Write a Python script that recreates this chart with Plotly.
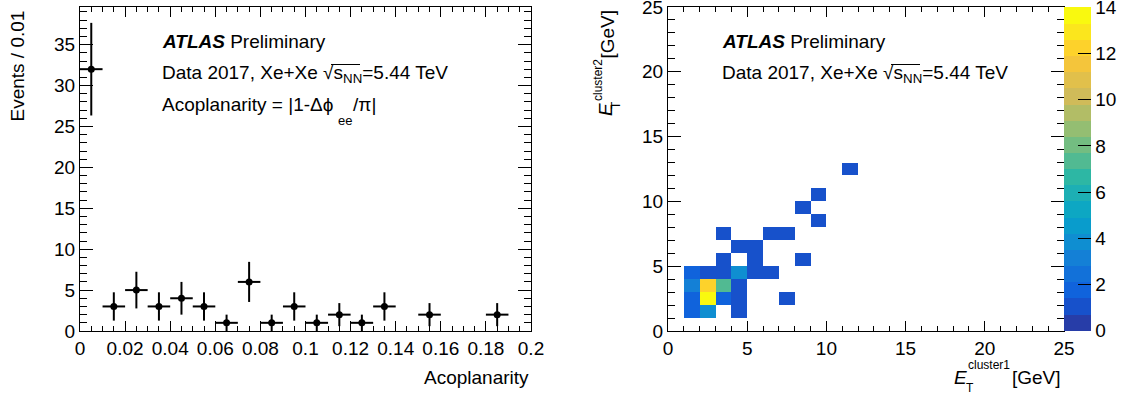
import plotly.graph_objects as go

# ---------------- data: left panel (acoplanarity histogram) ----------------
acop_center = [0.005, 0.015, 0.025, 0.035, 0.045, 0.055, 0.065, 0.075,
               0.085, 0.095, 0.105, 0.115, 0.125, 0.135, 0.155, 0.185]
acop_events = [32, 3, 5, 3, 4, 3, 1, 6, 1, 3, 1, 2, 1, 3, 2, 2]
acop_error = [5.66, 1.73, 2.24, 1.73, 2.0, 1.73, 1.0, 2.45,
              1.0, 1.73, 1.0, 1.41, 1.0, 1.73, 1.41, 1.41]
acop_halfbin = 0.005
acop_tickvals = [0, 0.02, 0.04, 0.06, 0.08, 0.1, 0.12, 0.14, 0.16, 0.18, 0.2]
acop_ticktext = ["0", "0.02", "0.04", "0.06", "0.08", "0.1", "0.12", "0.14", "0.16", "0.18", "0.2"]

# ---------------- data: right panel (ET cluster1 vs cluster2) ----------------
cell_et1 = [1, 2, 4,
            1, 2, 3, 4, 7,
            1, 2, 3, 4,
            1, 2, 3, 4, 5, 6,
            3, 5, 8,
            4, 5,
            3, 6, 7,
            9, 8, 9, 11]
cell_et2 = [1, 1, 1,
            2, 2, 2, 2, 2,
            3, 3, 3, 3,
            4, 4, 4, 4, 4, 4,
            5, 5, 5,
            6, 6,
            7, 7, 7,
            8, 9, 10, 12]
cell_count = [2, 4, 1,
              2, 14, 2, 1, 1,
              3, 12, 7, 1,
              2, 1, 1, 4, 1, 1,
              1, 1, 1,
              1, 1,
              1, 1, 1,
              1, 1, 1, 1]
et_edges = list(range(0, 26))
cbar_ticks = [0, 2, 4, 6, 8, 10, 12, 14]
z_min, z_max = 0.0, 14.0

# ---------------- style ----------------
W, H = 1121, 394
FONT = "Liberation Sans, Arial, sans-serif"
FS = 19
SUB = 12


def px(x):
    return x / W


def py(y):
    return 1 - y / H


# ROOT kBird palette, 20 contour levels
stops = [0.0, 0.125, 0.25, 0.375, 0.5, 0.625, 0.75, 0.875, 1.0]
rr = [0.2082, 0.0592, 0.0780, 0.0232, 0.1802, 0.5301, 0.8186, 0.9956, 0.9764]
gg = [0.1664, 0.3599, 0.5041, 0.6419, 0.7178, 0.7492, 0.7328, 0.7862, 0.9832]
bb = [0.5293, 0.8684, 0.8385, 0.7914, 0.6425, 0.4662, 0.3499, 0.1968, 0.0539]


def bird(t):
    for k in range(len(stops) - 1):
        if stops[k] <= t <= stops[k + 1]:
            f = (t - stops[k]) / (stops[k + 1] - stops[k])
            r = rr[k] + f * (rr[k + 1] - rr[k])
            g = gg[k] + f * (gg[k + 1] - gg[k])
            b = bb[k] + f * (bb[k + 1] - bb[k])
            return "rgb(%d,%d,%d)" % (round(r * 255), round(g * 255), round(b * 255))
    return "rgb(250,251,14)"


NLEV = 20
cb_lo, cb_hi = z_min - 0.02, z_max + 0.02   # keep end ticks inside the colour bar
step = (z_max - z_min) / NLEV


def norm(v):
    return min(1.0, max(0.0, (v - cb_lo) / (cb_hi - cb_lo)))


colorscale = []
for i in range(NLEV):
    c = bird(int((i + 0.99) * 255 / NLEV) / 255)
    lo = 0.0 if i == 0 else norm(z_min + i * step - 0.007)
    hi = 1.0 if i == NLEV - 1 else norm(z_min + (i + 1) * step - 0.007)
    colorscale.append([lo, c])
    colorscale.append([hi, c])

z = [[None] * 25 for _ in range(25)]
for ex, ey, n in zip(cell_et1, cell_et2, cell_count):
    z[ey][ex] = n

fig = go.Figure()
fig.add_trace(go.Scatter(
    x=acop_center, y=acop_events, mode="markers",
    marker=dict(color="black", size=7),
    error_x=dict(type="constant", value=acop_halfbin, width=0, thickness=2, color="black"),
    error_y=dict(type="data", array=acop_error, width=0, thickness=2, color="black"),
    xaxis="x", yaxis="y", showlegend=False, hoverinfo="skip"))

fig.add_trace(go.Heatmap(
    x=et_edges, y=et_edges, z=z, colorscale=colorscale, zmin=cb_lo, zmax=cb_hi,
    xaxis="x2", yaxis="y2", hoverinfo="skip",
    colorbar=dict(
        x=px(1064), xanchor="left", xpad=0,
        y=py(331), yanchor="bottom", ypad=0,
        len=324, lenmode="pixels", thickness=27, thicknessmode="pixels",
        outlinewidth=0, tickmode="array", tickvals=cbar_ticks,
        ticktext=[str(v) for v in cbar_ticks], ticks="inside", ticklen=13,
        tickcolor="black", tickwidth=1, ticklabeloverflow="allow",
        tickfont=dict(family=FONT, size=FS, color="black"))))

common = dict(showline=True, linecolor="black", linewidth=1, mirror="ticks",
              ticks="inside", tickcolor="black", tickwidth=1, showgrid=False,
              zeroline=False, ticklabeloverflow="allow",
              tickfont=dict(family=FONT, size=FS, color="black"))

ydom = [py(331), py(7)]
fig.update_layout(
    width=W, height=H, margin=dict(l=0, r=0, t=0, b=0, autoexpand=False),
    paper_bgcolor="white", plot_bgcolor="white", showlegend=False,
    font=dict(family=FONT, size=FS, color="black"),
    xaxis=dict(domain=[px(80), px(531)], range=[0, 0.2], tickvals=acop_tickvals,
               ticktext=acop_ticktext, ticklen=10,
               minor=dict(dtick=0.005, tick0=0, ticks="inside", ticklen=5, tickcolor="black", showgrid=False),
               anchor="y", **common),
    yaxis=dict(domain=ydom, range=[0, 39.6], dtick=5, tick0=0, ticklen=13,
               minor=dict(dtick=1, tick0=0, ticks="inside", ticklen=7, tickcolor="black", showgrid=False),
               anchor="x", **common),
    xaxis2=dict(domain=[px(668), px(1064)], range=[0, 25], dtick=5, tick0=0, ticklen=10,
                minor=dict(dtick=1, tick0=0, ticks="inside", ticklen=5, tickcolor="black", showgrid=False),
                anchor="y2", **common),
    yaxis2=dict(domain=ydom, range=[0, 25], dtick=5, tick0=0, ticklen=13,
                minor=dict(dtick=1, tick0=0, ticks="inside", ticklen=7, tickcolor="black", showgrid=False),
                anchor="x2", **common),
)


def ann(text, x, y, xa="left", ya="middle", size=FS, angle=0):
    fig.add_annotation(text=text, x=px(x), y=py(y), xref="paper", yref="paper",
                       xanchor=xa, yanchor=ya, showarrow=False, textangle=angle,
                       font=dict(family=FONT, size=size, color="black"))


for dx in (0, 560):
    ann("<b><i>ATLAS</i></b> Preliminary", 160 + dx, 42)
    ann("Data 2017, Xe+Xe \u221as<sub>NN</sub>=5.44 TeV", 160 + dx, 74)
    # overline of the square root
    fig.add_shape(type="line", xref="paper", yref="paper",
                  x0=px(331 + dx), x1=px(360 + dx), y0=py(64.5), y1=py(64.5),
                  line=dict(color="black", width=1))

ann("Acoplanarity = |1-\u0394\u03d5", 160, 105)
ann("ee", 336, 120, size=13)
ann("/\u03c0|", 351, 105)

# axis titles
ann("Events / 0.01", 17, 9, xa="center", ya="top", angle=-90)
ann("Acoplanarity", 531, 377, xa="right")

ann("<i>E</i>", 952, 377)
ann("T", 964, 388, size=SUB)
ann("cluster1", 966, 365, size=SUB)
ann("[GeV]", 1063, 377, xa="right")

ann("[GeV]", 607, 8, xa="center", ya="top", angle=-90)
ann("<i>E</i>", 605, 110, xa="center", angle=-90)
ann("T", 616, 105, xa="center", size=SUB, angle=-90)
ann("cluster2", 598, 80, xa="center", size=SUB, angle=-90)

fig.write_html("out.html", config={"displayModeBar": False},
               post_script="document.body.style.margin='0';document.body.style.overflow='hidden';")
